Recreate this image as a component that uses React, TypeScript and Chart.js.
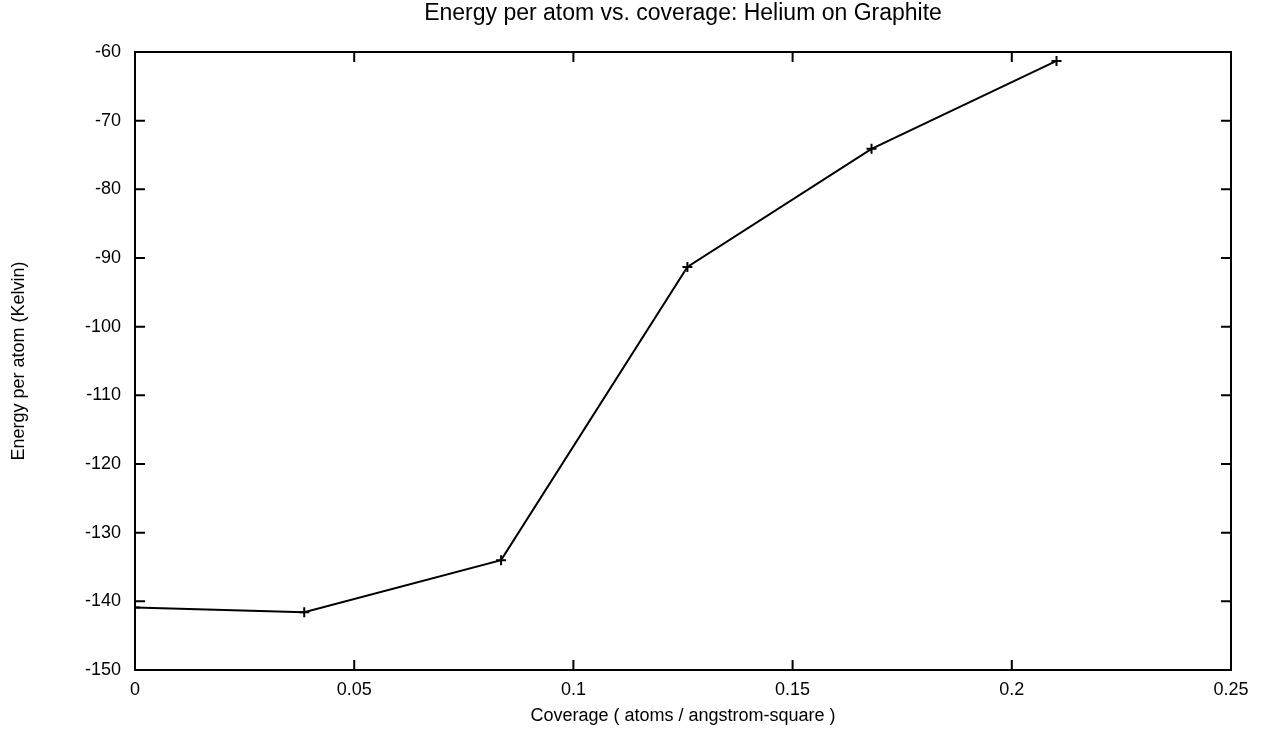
import React, { useEffect, useRef } from "react";
import { Chart, registerables } from "chart.js";

Chart.register(...registerables);

// Coverage in atoms per square angstrom
const coverage = [0, 0.0386, 0.0835, 0.126, 0.168, 0.2102];
// Energy per atom in Kelvin
const energy = [-140.9, -141.6, -134.0, -91.3, -74.1, -61.3];

const xTicks = [0, 0.05, 0.1, 0.15, 0.2, 0.25];
const yTicks = [-150, -140, -130, -120, -110, -100, -90, -80, -70, -60];

const FONT = "'Liberation Sans', Arial, Helvetica, sans-serif";

// gnuplot-style frame with inward tick marks on all four sides
const framePlugin = {
  id: "frameTicks",
  afterDraw(chart: any) {
    const { ctx, chartArea } = chart;
    const { left, right, top, bottom } = chartArea;
    const xs = chart.scales.x;
    const ys = chart.scales.y;
    const len = 10;
    ctx.save();
    ctx.strokeStyle = "#000";
    ctx.lineWidth = 2;
    ctx.beginPath();
    ctx.rect(left, top, right - left, bottom - top);
    ctx.stroke();
    ctx.beginPath();
    for (const v of xTicks) {
      const px = xs.getPixelForValue(v);
      ctx.moveTo(px, bottom);
      ctx.lineTo(px, bottom - len);
      ctx.moveTo(px, top);
      ctx.lineTo(px, top + len);
    }
    for (const v of yTicks) {
      const py = ys.getPixelForValue(v);
      ctx.moveTo(left, py);
      ctx.lineTo(left + len, py);
      ctx.moveTo(right, py);
      ctx.lineTo(right - len, py);
    }
    ctx.stroke();
    ctx.restore();
  },
};

export default function App() {
  const ref = useRef<HTMLCanvasElement | null>(null);

  useEffect(() => {
    document.body.style.margin = "0";
    const canvas = ref.current;
    if (!canvas) return;
    const chart = new Chart(canvas, {
      type: "scatter",
      data: {
        datasets: [
          {
            data: coverage.map((c, i) => ({ x: c, y: energy[i] })),
            showLine: true,
            borderColor: "#000",
            borderWidth: 2,
            tension: 0,
            pointStyle: "cross",
            pointRadius: 5,
            pointBorderWidth: 2,
            pointBorderColor: "#000",
            pointBackgroundColor: "#000",
          },
        ],
      },
      options: {
        responsive: false,
        animation: false,
        devicePixelRatio: 1,
        layout: { padding: { left: 0, right: 42, top: 0, bottom: 0 } },
        plugins: {
          legend: { display: false },
          tooltip: { enabled: false },
          title: {
            display: true,
            text: "Energy per atom vs. coverage: Helium on Graphite",
            color: "#000",
            font: { family: FONT, size: 23, weight: "normal", lineHeight: 1.2 },
            padding: { top: 0, bottom: 24.4 },
            fullSize: false,
          },
        },
        scales: {
          x: {
            type: "linear",
            min: 0,
            max: 0.25,
            afterBuildTicks: (s: any) => {
              s.ticks = xTicks.map((v) => ({ value: v }));
            },
            afterFit: (s: any) => {
              s.height = 70;
            },
            grid: { display: false, drawTicks: false },
            border: { display: false },
            ticks: {
              color: "#000",
              padding: 9,
              font: { family: FONT, size: 18 },
              callback: (v: any) => String(Number(v)),
            },
            title: {
              display: true,
              text: "Coverage ( atoms / angstrom-square )",
              color: "#000",
              font: { family: FONT, size: 18, lineHeight: 1.2 },
              padding: { top: 0, bottom: 13 },
            },
          },
          y: {
            type: "linear",
            min: -150,
            max: -60,
            afterBuildTicks: (s: any) => {
              s.ticks = yTicks.map((v) => ({ value: v }));
            },
            afterFit: (s: any) => {
              s.width = 135;
            },
            grid: { display: false, drawTicks: false },
            border: { display: false },
            ticks: {
              color: "#000",
              padding: 14,
              font: { family: FONT, size: 18 },
              callback: (v: any) => String(v),
            },
            title: {
              display: true,
              text: "Energy per atom (Kelvin)",
              color: "#000",
              font: { family: FONT, size: 18, lineHeight: 1.2 },
              padding: { top: 8, bottom: 0 },
            },
          },
        },
      },
      plugins: [framePlugin],
    });
    return () => chart.destroy();
  }, []);

  return (
    <div style={{ width: 1273, height: 740, background: "#fff" }}>
      <canvas ref={ref} width={1273} height={740} style={{ display: "block" }} />
    </div>
  );
}
